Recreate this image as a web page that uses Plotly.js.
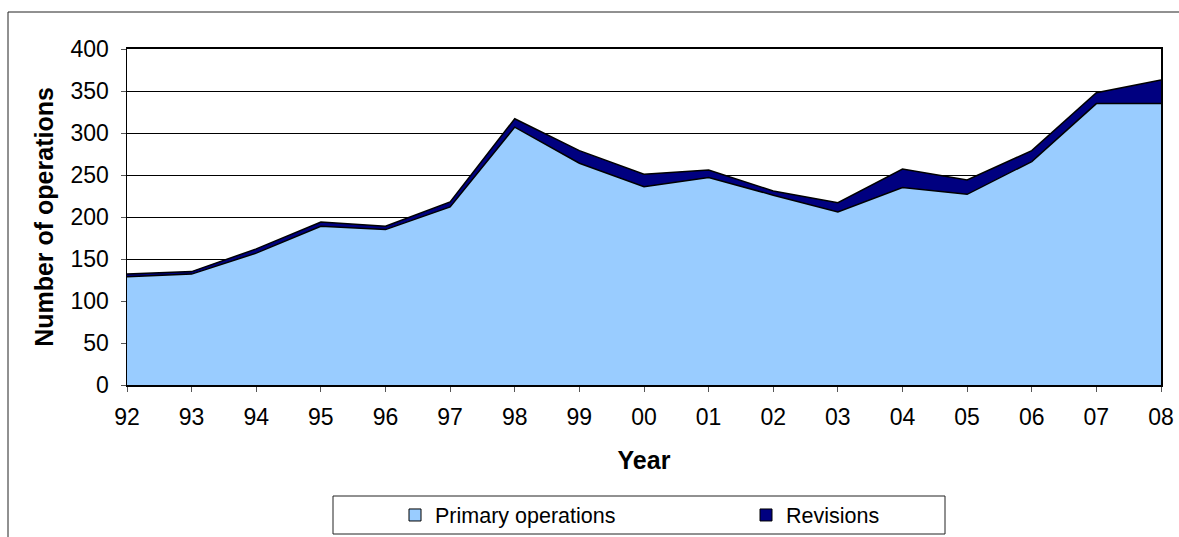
<!DOCTYPE html>
<html>
<head>
<meta charset="utf-8">
<script src="https://cdn.plot.ly/plotly-3.0.1.min.js"></script>
<style>html,body{margin:0;padding:0;background:#fff;}#chart{width:1179px;height:537px;}</style>
</head>
<body>
<div id="chart"></div>
<script>
// ---- data ----
const years = ['92','93','94','95','96','97','98','99','00','01','02','03','04','05','06','07','08'];
const primary = [129,132,157,189,185,212,307,264,236,247,226,206,235,227,266,335,335];
const revisions = [3,3,5,5,4,6,10,15,15,9,5,11,22,17,13,13,28];
const seriesNames = ['Primary operations','Revisions'];
const yTicks = [0,50,100,150,200,250,300,350,400];

// ---- geometry helpers (pixel -> paper / container) ----
const W = 1179, H = 537;
const L = 127, R = 1161, T = 49, B = 385;
const px = x => (x - L) / (R - L);
const py = y => (B - y) / (B - T);
const cx = x => x / W;
const cy = y => 1 - y / H;

const FONT = 'Liberation Sans, Arial, sans-serif';
const lightBlue = '#99CCFF', navy = '#000080';

const traces = [
  {x: years, y: primary, name: seriesNames[0], type: 'scatter', mode: 'lines', stackgroup: 'one',
   fillcolor: lightBlue, line: {color: '#000', width: 1.5}, showlegend: false, hoverinfo: 'x+y'},
  {x: years, y: revisions, name: seriesNames[1], type: 'scatter', mode: 'lines', stackgroup: 'one',
   fillcolor: navy, line: {color: '#000', width: 1.5}, showlegend: false, hoverinfo: 'x+y'},
  // legend entries (small square swatches like the original)
  {x: [null], y: [null], name: seriesNames[0], type: 'scatter', mode: 'markers',
   marker: {symbol: 'square', size: 12, color: lightBlue, line: {color: '#000', width: 1}}, showlegend: true},
  {x: [null], y: [null], name: seriesNames[1], type: 'scatter', mode: 'markers',
   marker: {symbol: 'square', size: 12, color: navy, line: {color: '#000', width: 1}}, showlegend: true}
];

const layout = {
  width: W, height: H,
  margin: {l: L, r: W - R, t: T, b: H - B, pad: 0},
  paper_bgcolor: '#fff', plot_bgcolor: '#fff',
  font: {family: FONT, color: '#000', size: 22},
  showlegend: true,
  xaxis: {
    type: 'category', range: [0, years.length - 1], fixedrange: true,
    showline: true, linecolor: '#000', linewidth: 2, mirror: true,
    ticks: 'outside', ticklen: 5, tickcolor: '#555', tickwidth: 1,
    showgrid: false, zeroline: false,
    tickfont: {family: FONT, size: 23, color: '#000'}, ticklabelstandoff: 5,
    title: {text: 'Year', font: {family: FONT, size: 25, color: '#000', weight: 'bold'}, standoff: 23},
    automargin: false
  },
  yaxis: {
    range: [0, 400], tickvals: yTicks, ticktext: yTicks.map(String), fixedrange: true,
    showline: true, linecolor: '#000', linewidth: 1.5, mirror: true,
    ticks: 'outside', ticklen: 5, tickcolor: '#555', tickwidth: 1,
    showgrid: true, gridcolor: '#000', gridwidth: 1, zeroline: false,
    tickfont: {family: FONT, size: 23, color: '#000'}, ticklabelstandoff: 7,
    title: {text: 'Number of operations', font: {family: FONT, size: 25, color: '#000', weight: 'bold'}, standoff: 10},
    automargin: false
  },
  legend: {
    orientation: 'h', xref: 'container', yref: 'container',
    x: cx(395), y: cy(515), xanchor: 'left', yanchor: 'middle',
    traceorder: 'normal',
    bgcolor: 'rgba(0,0,0,0)', borderwidth: 0,
    font: {family: FONT, size: 21.5, color: '#000'},
    entrywidth: 306, entrywidthmode: 'pixels', itemwidth: 30
  },
  shapes: [
    // outer chart-area frame (left and top edges visible)
    {type: 'line', xref: 'paper', yref: 'paper', x0: px(8), x1: px(8), y0: py(12), y1: py(545), line: {color: '#222', width: 1}},
    {type: 'line', xref: 'paper', yref: 'paper', x0: px(8), x1: px(1190), y0: py(12), y1: py(12), line: {color: '#222', width: 1}},
    // legend box
    {type: 'rect', xref: 'paper', yref: 'paper', x0: px(333), x1: px(945), y0: py(496), y1: py(534), line: {color: '#222', width: 1}, fillcolor: 'rgba(0,0,0,0)'}
  ]
};

Plotly.newPlot('chart', traces, layout, {displayModeBar: false, staticPlot: true});
</script>
</body>
</html>
